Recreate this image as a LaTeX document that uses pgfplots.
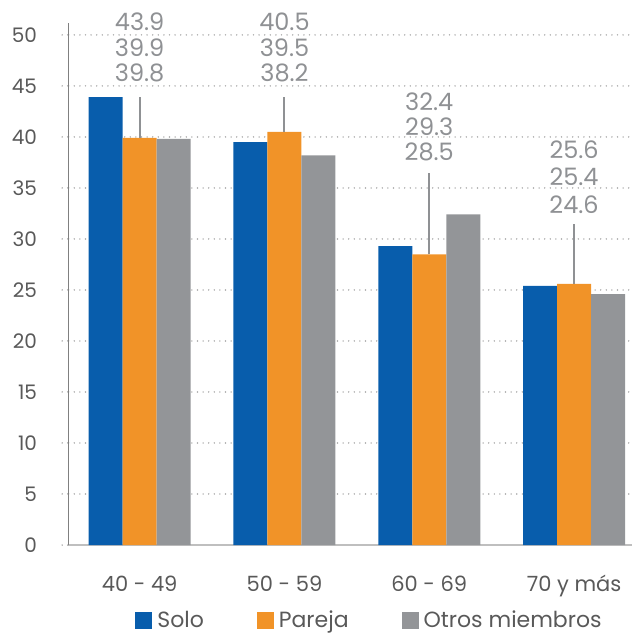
\documentclass[border=0pt]{standalone}
\usepackage{fontspec}
\setmainfont{Poppins}
\usepackage{pgfplots}
\pgfplotsset{compat=1.18}
\definecolor{cblue}{HTML}{085DAC}
\definecolor{corange}{HTML}{F19328}
\definecolor{cgray}{HTML}{939598}
\definecolor{txt}{HTML}{595959}
\definecolor{lbl}{HTML}{8F9194}
\definecolor{gridc}{HTML}{A6A6A6}
\definecolor{axc}{HTML}{BFBFBF}
\begin{document}
\begin{tikzpicture}[x=1pt,y=1pt]
\useasboundingbox (-68.7,-92) rectangle (563.3,545);
\begin{axis}[
  at={(0,0)}, anchor=south west,
  scale only axis, width=563.3pt, height=522.3pt,
  xmin=-0.49, xmax=3.4, ymin=0, ymax=51.2,
  ybar=0pt, bar width=34pt,
  clip=false,
  /pgf/number format/assume math mode=true,
  axis x line*=bottom, axis y line*=left,
  x axis line style={draw=axc, line width=2pt},
  y axis line style={draw=gray, line width=0.9pt},
  xtick={0,1,2,3},
  xticklabels={40 - 49, 50 - 59, 60 - 69, 70 y más},
  xtick style={draw=none},
  ytick={0,5,...,50},
  tick align=outside,
  major tick length=6.5pt,
  ytick style={draw=gridc, line width=1.6pt, dash pattern=on 0pt off 5.6pt, line cap=round},
  ymajorgrids,
  major grid style={draw=gridc, line width=1.6pt, dash pattern=on 0pt off 5.6pt, line cap=round},
  yticklabel style={font=\fontsize{20}{24}\selectfont, text=txt, anchor=east, inner sep=0pt, xshift=-25pt},
  xticklabel style={font=\fontsize{21}{25}\selectfont, text=txt, anchor=base, inner sep=0pt, yshift=-40pt},
  legend columns=3,
  legend style={at={(0.534,0)}, anchor=center, yshift=-75pt, draw=none, fill=none,
    font=\fontsize{22}{26}\selectfont, text=txt,
    /tikz/every even column/.append style={column sep=51pt},
    /tikz/every odd column/.append style={column sep=3pt}},
  legend image code/.code={\fill[#1] (0pt,-8.5pt) rectangle (17pt,8.5pt);},
]
\addplot[fill=cblue, draw=none] coordinates {(0,43.9) (1,39.5) (2,29.3) (3,25.4)};
\addplot[fill=corange, draw=none] coordinates {(0,39.9) (1,40.5) (2,28.5) (3,25.6)};
\addplot[fill=cgray, draw=none] coordinates {(0,39.8) (1,38.2) (2,32.4) (3,24.6)};
\legend{Solo, Pareja, Otros miembros}

\draw[lbl, line width=2pt] (axis cs:0,39.9) -- (axis cs:0,43.95);
\draw[lbl, line width=2pt] (axis cs:1,40.5) -- (axis cs:1,43.95);
\draw[lbl, line width=2pt] (axis cs:2,28.5) -- (axis cs:2,36.5);
\draw[lbl, line width=2pt] (axis cs:3,25.6) -- (axis cs:3,31.5);

\tikzset{dl/.style={font=\fontsize{24}{28}\selectfont, text=lbl, inner sep=0pt, anchor=center}}
\node[dl] at (axis cs:0,51.3) {43.9};
\node[dl] at (axis cs:0,48.75) {39.9};
\node[dl] at (axis cs:0,46.3) {39.8};
\node[dl] at (axis cs:1,51.3) {40.5};
\node[dl] at (axis cs:1,48.75) {39.5};
\node[dl] at (axis cs:1,46.3) {38.2};
\node[dl] at (axis cs:2,43.5) {32.4};
\node[dl] at (axis cs:2,41.0) {29.3};
\node[dl] at (axis cs:2,38.5) {28.5};
\node[dl] at (axis cs:3,38.7) {25.6};
\node[dl] at (axis cs:3,36.1) {25.4};
\node[dl] at (axis cs:3,33.4) {24.6};
\end{axis}
\end{tikzpicture}
\end{document}
